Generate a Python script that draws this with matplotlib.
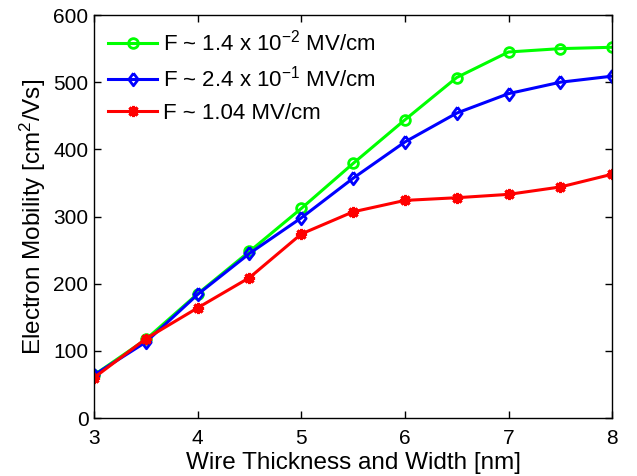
import matplotlib
matplotlib.use("Agg")
import matplotlib.pyplot as plt

plt.rcParams['font.family'] = ['Liberation Sans', 'DejaVu Sans']
plt.rcParams['mathtext.fontset'] = 'custom'
plt.rcParams['mathtext.rm'] = 'Liberation Sans'
plt.rcParams['mathtext.it'] = 'Liberation Sans:italic'

thickness = [3, 3.5, 4, 4.5, 5, 5.5, 6, 6.5, 7, 7.5, 8]
mobility_low = [64, 117, 185, 248, 312, 379, 444, 507, 545, 550, 552]
mobility_mid = [64, 113, 184, 245, 298, 357, 411, 454, 483, 500, 509]
mobility_high = [60, 118, 164, 209, 274, 307, 324, 328, 333, 344, 363]

labels = [r'F ~ 1.4 x 10$^{-2}$ MV/cm',
          r'F ~ 2.4 x 10$^{-1}$ MV/cm',
          'F ~ 1.04 MV/cm']

# wide diamond outline, like the classic MATLAB 'd' marker
diamond = [(0, 1), (0.75, 0), (0, -1), (-0.75, 0), (0, 1)]

fig = plt.figure(figsize=(6.37, 4.76), dpi=100)
ax = fig.add_axes([0.1476, 0.1218, 0.8134, 0.8466])

ax.plot(thickness, mobility_low, color='#00ff00', lw=2.2, marker='o', ms=7,
        mfc='none', mec='#00ff00', mew=2, label=labels[0])
ax.plot(thickness, mobility_mid, color='#0000ff', lw=2.2, marker=diamond, ms=9,
        mfc='none', mec='#0000ff', mew=2, label=labels[1])
ax.plot(thickness, mobility_high, color='#ff0000', lw=2.2, marker=(8, 2, 0), ms=8,
        mfc='#ff0000', mec='#ff0000', mew=2.2, label=labels[2])

ax.set_xlim(3, 8)
ax.set_ylim(0, 600)
ax.set_xticks([3, 4, 5, 6, 7, 8])
ax.set_yticks([0, 100, 200, 300, 400, 500, 600])
ax.tick_params(direction='in', length=5, width=1, labelsize=15, top=True, right=True, pad=4)
ax.tick_params(axis='x', pad=8)
for s in ax.spines.values():
    s.set_linewidth(1)

ax.set_xlabel('Wire Thickness and Width [nm]', fontsize=17.5, labelpad=3)
ax.set_ylabel(r'Electron Mobility [cm$^2$/Vs]', fontsize=17.5, labelpad=4)

ax.legend(loc='upper left', frameon=False, fontsize=16, handlelength=2.2,
          handletextpad=0.25, labelspacing=0.48, borderaxespad=0.4,
          borderpad=0.25, bbox_to_anchor=(0.0, 1.0))

fig.savefig('out.png', dpi=100)
